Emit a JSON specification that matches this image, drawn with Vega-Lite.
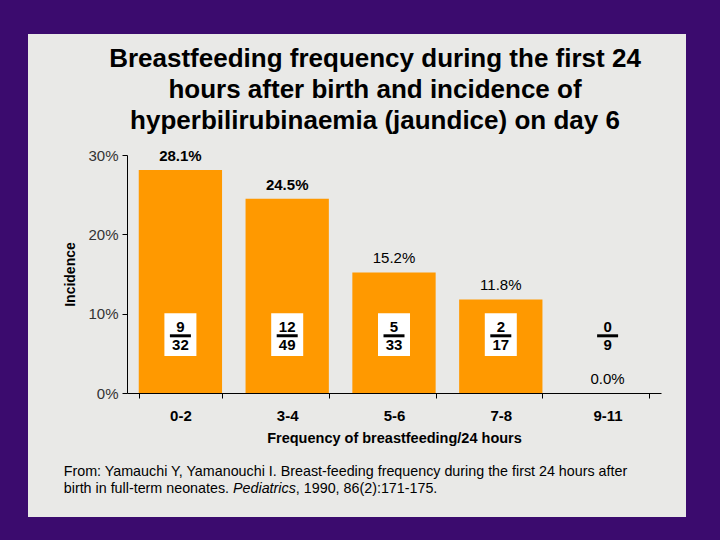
{
  "$schema": "https://vega.github.io/schema/vega-lite/v6.json",
  "width": 658,
  "height": 483,
  "autosize": {"type": "none"},
  "padding": {"left": 28, "top": 34, "right": 34, "bottom": 23},
  "background": "#3b0b6e",
  "config": {
    "view": {"fill": "#e9e9e7", "stroke": null},
    "font": "Liberation Sans"
  },
  "title": {
    "text": ["Breastfeeding frequency during the first 24", "hours after birth and incidence of", "hyperbilirubinaemia (jaundice) on day 6"],
    "fontSize": 26,
    "fontWeight": "bold",
    "color": "#000000",
    "lineHeight": 31,
    "anchor": "middle",
    "frame": "group",
    "offset": -100,
    "dx": 18
  },
  "data": {
    "values": [
      {"freq": "0-2", "incidence": 0.281, "num": "9", "den": "32"},
      {"freq": "3-4", "incidence": 0.245, "num": "12", "den": "49"},
      {"freq": "5-6", "incidence": 0.152, "num": "5", "den": "33"},
      {"freq": "7-8", "incidence": 0.118, "num": "2", "den": "17"},
      {"freq": "9-11", "incidence": 0.0, "num": "0", "den": "9"}
    ]
  },
  "encoding": {
    "x": {
      "field": "freq",
      "type": "nominal",
      "scale": {"domain": ["0-2", "3-4", "5-6", "7-8", "9-11"], "range": [99, 633], "paddingInner": 0.22, "paddingOuter": 0.11},
      "axis": {
        "title": "Frequency of breastfeeding/24 hours",
        "offset": -124,
        "labelAngle": 0,
        "tickBand": "extent",
        "tickSize": 5,
        "tickColor": "#000000",
        "domainColor": "#000000",
        "labelFontSize": 15,
        "labelFontWeight": "bold",
        "labelColor": "#000000",
        "labelPadding": 10,
        "titleFontSize": 14.5,
        "titleFontWeight": "bold",
        "titleColor": "#000000",
        "titlePadding": 8
      }
    }
  },
  "layer": [
    {
      "mark": {"type": "bar", "color": "#ff9900"},
      "encoding": {
        "y": {
          "field": "incidence",
          "type": "quantitative",
          "scale": {"domain": [0, 0.3], "range": [359, 121], "nice": false},
          "axis": {
            "title": "Incidence",
            "values": [0, 0.1, 0.2, 0.3],
            "format": ".0%",
            "offset": -99,
            "grid": false,
            "tickSize": 5,
            "tickColor": "#000000",
            "domainColor": "#000000",
            "labelFontSize": 15,
            "labelColor": "#333333",
            "labelPadding": 4,
            "titleFontSize": 14,
            "titleFontWeight": "bold",
            "titleColor": "#000000",
            "titlePadding": 10
          }
        }
      }
    },
    {
      "transform": [{"filter": "indexof(['0-2','3-4'], datum.freq) >= 0"}],
      "mark": {"type": "text", "fontSize": 15, "fontWeight": "bold", "baseline": "middle", "dy": -14, "color": "#000000"},
      "encoding": {
        "y": {"field": "incidence", "type": "quantitative"},
        "text": {"field": "incidence", "type": "quantitative", "format": ".1%"}
      }
    },
    {
      "transform": [{"filter": "indexof(['0-2','3-4'], datum.freq) < 0"}],
      "mark": {"type": "text", "fontSize": 15, "baseline": "middle", "dy": -14, "color": "#000000"},
      "encoding": {
        "y": {"field": "incidence", "type": "quantitative"},
        "text": {"field": "incidence", "type": "quantitative", "format": ".1%"}
      }
    },
    {
      "transform": [{"filter": "datum.incidence > 0"}],
      "mark": {"type": "bar", "color": "#ffffff", "width": 32},
      "encoding": {
        "y": {"datum": 0.1005, "type": "quantitative"},
        "y2": {"datum": 0.0466}
      }
    },
    {
      "mark": {"type": "tick", "orient": "horizontal", "size": 21, "thickness": 3, "color": "#000000", "opacity": 1},
      "encoding": {
        "y": {"datum": 0.0721, "type": "quantitative"}
      }
    },
    {
      "mark": {"type": "text", "fontSize": 15, "fontWeight": "bold", "baseline": "middle", "color": "#000000"},
      "encoding": {
        "y": {"datum": 0.0836, "type": "quantitative"},
        "text": {"field": "num"}
      }
    },
    {
      "mark": {"type": "text", "fontSize": 15, "fontWeight": "bold", "baseline": "middle", "color": "#000000"},
      "encoding": {
        "y": {"datum": 0.0601, "type": "quantitative"},
        "text": {"field": "den"}
      }
    },
    {
      "data": {"values": [{"note": "From: Yamauchi Y, Yamanouchi I.  Breast-feeding frequency during the first 24 hours after"}]},
      "mark": {"type": "text", "fontSize": 14.3, "align": "left", "baseline": "middle", "dx": -75, "color": "#000000"},
      "encoding": {
        "x": {"datum": "0-2", "bandPosition": 0},
        "y": {"datum": -0.0996, "type": "quantitative"},
        "text": {"field": "note"}
      }
    },
    {
      "data": {"values": [{"note": "birth in full-term neonates. "}]},
      "mark": {"type": "text", "fontSize": 14.3, "align": "left", "baseline": "middle", "dx": -75, "color": "#000000"},
      "encoding": {
        "x": {"datum": "0-2", "bandPosition": 0},
        "y": {"datum": -0.121, "type": "quantitative"},
        "text": {"field": "note"}
      }
    },
    {
      "data": {"values": [{"note": "Pediatrics"}]},
      "mark": {"type": "text", "fontSize": 14.3, "fontStyle": "italic", "align": "left", "baseline": "middle", "dx": 94.3, "color": "#000000"},
      "encoding": {
        "x": {"datum": "0-2", "bandPosition": 0},
        "y": {"datum": -0.121, "type": "quantitative"},
        "text": {"field": "note"}
      }
    },
    {
      "data": {"values": [{"note": ", 1990, 86(2):171-175."}]},
      "mark": {"type": "text", "fontSize": 14.3, "align": "left", "baseline": "middle", "dx": 157.1, "color": "#000000"},
      "encoding": {
        "x": {"datum": "0-2", "bandPosition": 0},
        "y": {"datum": -0.121, "type": "quantitative"},
        "text": {"field": "note"}
      }
    }
  ]
}
